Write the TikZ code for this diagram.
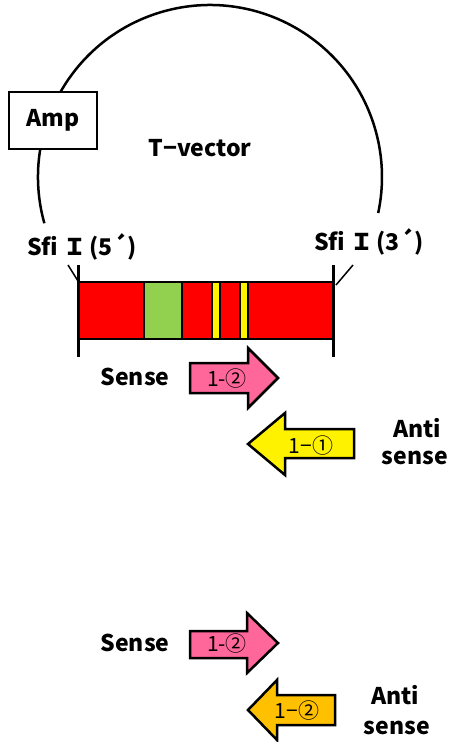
\documentclass[tikz,border=0pt]{standalone}
\usepackage{fontspec}
\setmainfont{Noto Sans CJK JP}
\begin{document}
\begin{tikzpicture}[x=1pt,y=-1pt,
  lbl/.style={font=\fontsize{23}{25}\selectfont\bfseries, inner sep=0pt},
  alb/.style={font=\fontsize{21}{22}\selectfont, inner sep=0pt},
  seg/.style={draw=black, line width=2.5pt},
  arr/.style={draw=black, line width=2.5pt, line join=miter},
  tickline/.style={line width=3pt},
  lead/.style={line width=1.5pt}]
\useasboundingbox (0,0) rectangle (450,742);
% vector circle
\draw[line width=2.5pt] (210,177) ++(164.4:172) arc[start angle=164.4, end angle=372.1, radius=172];
\node[draw, line width=2pt, fill=white, minimum width=88pt, minimum height=57pt, lbl] (amp) at (53,120) {Amp};
\node[lbl] (tv) at (200,148) {T−vector};
% Sfi labels
\node[lbl] (sfiL) at (82,247) {Sfi Ｉ\hspace{3pt}(5´)};
\node[lbl] (sfiR) at (369,242) {Sfi Ｉ\hspace{3pt}(3´)};
\coordinate (l1) at (68,265); \coordinate (l2) at (78,281);
\coordinate (r1) at (353,265); \coordinate (r2) at (336,285);
\draw[lead] (l1) -- (l2);
\draw[lead] (r1) -- (r2);
% insert bar
\draw[seg, fill=red] (78,282) rectangle (144,339);
\draw[seg, fill={rgb,255:red,146;green,208;blue,80}] (144,282) rectangle (182,339);
\draw[seg, fill=red] (182,282) rectangle (212,339);
\draw[seg, fill=yellow] (212,282) rectangle (220,339);
\draw[seg, fill=red] (220,282) rectangle (240,339);
\draw[seg, fill=yellow] (240,282) rectangle (248,339);
\draw[seg, fill=red] (248,282) rectangle (333,339);
\draw[tickline] (78,265) -- (78,357);
\draw[tickline] (333,265) -- (333,357);
% first primer pair
\definecolor{pinkarr}{RGB}{255,102,153}
\definecolor{orangearr}{RGB}{255,192,0}
\draw[arr, fill=pinkarr] (190,363) -- (248,363) -- (248,348) -- (278,378) -- (248,408) -- (248,393) -- (190,393) -- cycle;
\node[alb] (p1) at (227,379) {1-②};
\draw[arr, fill=yellow] (354,429) -- (285,429) -- (285,413) -- (248,444) -- (285,475) -- (285,458) -- (354,458) -- cycle;
\node[alb] (y1) at (311,446) {1−①};
\node[lbl] (s1) at (135,377) {Sense};
\node[lbl] (a1) at (417,428) {Anti};
\node[lbl] (a1b) at (415,458) {sense};
% second primer pair
\draw[arr, fill=pinkarr] (190,631) -- (247,631) -- (247,613) -- (278,643) -- (247,673) -- (247,658) -- (190,658) -- cycle;
\node[alb] (p2) at (227,644) {1-②};
\draw[arr, fill=orangearr] (335,695) -- (277,695) -- (277,680) -- (248,710) -- (277,740) -- (277,725) -- (335,725) -- cycle;
\node[alb] (o2) at (297,711) {1−②};
\node[lbl] (s2) at (135,643) {Sense};
\node[lbl] (a2) at (395,695) {Anti};
\node[lbl] (a2b) at (397,728) {sense};
\end{tikzpicture}
\end{document}
